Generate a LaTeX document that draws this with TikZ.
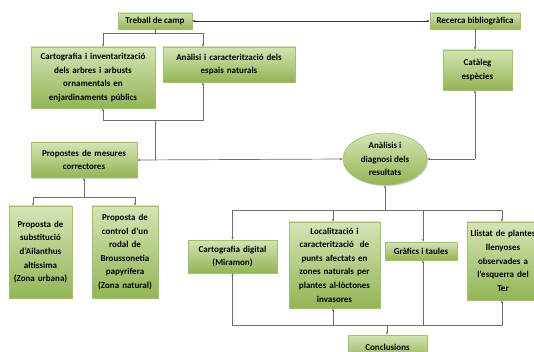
\documentclass[tikz,border=0pt]{standalone}
\usepackage{fontspec}
\setmainfont{Carlito}
\usetikzlibrary{arrows.meta, positioning, shapes.geometric, shadows}
\definecolor{boxtop}{HTML}{D4E4B4}
\definecolor{boxbot}{HTML}{93B556}
\definecolor{boxline}{HTML}{A3C070}
\definecolor{linegrey}{HTML}{6E6E6E}

\begin{document}
\begin{tikzpicture}[x=1pt, y=-1pt, >={Stealth[length=3pt,width=2.4pt]},
    every node/.style={font=\fontsize{9}{13.6}\selectfont\bfseries, text=black, align=center, inner sep=1pt},
    box/.style={draw=boxline, line width=0.6pt, top color=boxtop, bottom color=boxbot,
        drop shadow={shadow xshift=1.2pt, shadow yshift=-1.2pt, fill=black!35}},
    conn/.style={draw=linegrey, line width=0.7pt},
    ]

\useasboundingbox (0,0) rectangle (534,352);

% boxes
\node[box, minimum width=74, minimum height=16] (treball) at (155,21) {Treball de camp};
\node[box, minimum width=90, minimum height=16] (recerca) at (475,21) {Recerca bibliogràfica};
\node[box, minimum width=124, minimum height=61, text width=120] (cartinv) at (93,77.5)
    {Cartografia i inventarització\\dels arbres i arbusts\\ornamentals en\\enjardinaments públics};
\node[box, minimum width=132, minimum height=35, text width=128] (analisi) at (229,64.5)
    {Anàlisi i caracterització dels\\espais naturals};
\node[box, minimum width=69, minimum height=40, text width=65] (cataleg) at (477.5,70) {Catàleg\\espècies};
\node[box, minimum width=106, minimum height=35, text width=102] (propostes) at (84,160)
    {Propostes de mesures\\correctores};
\node[box, minimum width=63, minimum height=92, text width=60] (subst) at (40.5,252)
    {Proposta de\\substitució\\d’Ailanthus\\altissima\\(Zona urbana)};
\node[box, minimum width=66, minimum height=92, text width=63] (control) at (125,252)
    {Proposta de\\control d’un\\rodal de\\Broussonetia\\papyrifera\\(Zona natural)};
\node[box, ellipse, minimum width=84, minimum height=52] (diagnosi) at (385,159)
    {Anàlisis i\\diagnosi dels\\resultats};
\node[box, minimum width=89, minimum height=33, text width=86] (cartdig) at (232.5,256.5)
    {Cartografia digital\\(Miramon)};
\node[box, minimum width=91, minimum height=86, text width=88] (local) at (334.5,265)
    {Localització i\\caracterització~ de\\punts afectats en\\zones naturals per\\plantes al·lòctones\\invasores};
\node[box, minimum width=72, minimum height=18] (grafics) at (421,251) {Gràfics i taules};
\node[box, minimum width=72, minimum height=78, text width=70] (llistat) at (503,261)
    {Llistat de plantes\\llenyoses\\observades a\\l’esquerra del\\Ter};
\node[box, minimum width=79, minimum height=24] (conclusions) at (387.5,347) {Conclusions};

% junction points
\coordinate (topfork) at (155,33);
\coordinate (midfork) at (155,120);
\coordinate (leftfork) at (84,197);
\coordinate (upfork) at (385,210);
\coordinate (lowfork) at (387,325);
\coordinate (catcorner) at (475,159);

% connectors
\draw[conn, draw=black!80, <->] (treball.east) -- (recerca.west);
\draw[conn] (treball.south) -- (topfork);
\draw[conn, ->] (topfork) -| (cartinv.north -| 103,0);
\draw[conn, ->] (topfork) -| (analisi.north -| 203,0);
\draw[conn, ->] (recerca.south -| 475,0) -- (cataleg.north -| 475,0);
\draw[conn, ->] (midfork) -| (cartinv.south -| 103,0);
\draw[conn, ->] (midfork) -| (analisi.south -| 203,0);
\draw[conn] (midfork) -- (155,160);
\draw[conn, <->] (propostes.east) -- (diagnosi.west);
\draw[conn, ->] (catcorner) -- (cataleg.south -| 475,0);
\draw[conn, ->] (catcorner) -- (diagnosi.east);
\draw[conn, ->] (leftfork) -- (propostes.south);
\draw[conn, ->] (leftfork) -| (subst.north -| 33,0);
\draw[conn, ->] (leftfork) -| (control.north -| 135,0);
\draw[conn, ->] (upfork) -- (diagnosi.south);
\draw[conn, ->] (upfork) -| (cartdig.north);
\draw[conn, ->] (upfork) -| (local.north -| 333,0);
\draw[conn, ->] (upfork) -| (grafics.north -| 423,0);
\draw[conn, ->] (upfork) -| (llistat.north -| 502,0);
\draw[conn, ->] (lowfork) -| (cartdig.south);
\draw[conn, ->] (lowfork) -| (local.south -| 333,0);
\draw[conn, ->] (lowfork) -| (grafics.south -| 423,0);
\draw[conn, ->] (lowfork) -| (llistat.south -| 502,0);
\draw[conn, ->] (lowfork) -- (conclusions.north -| 387,0);
\end{tikzpicture}
\end{document}
